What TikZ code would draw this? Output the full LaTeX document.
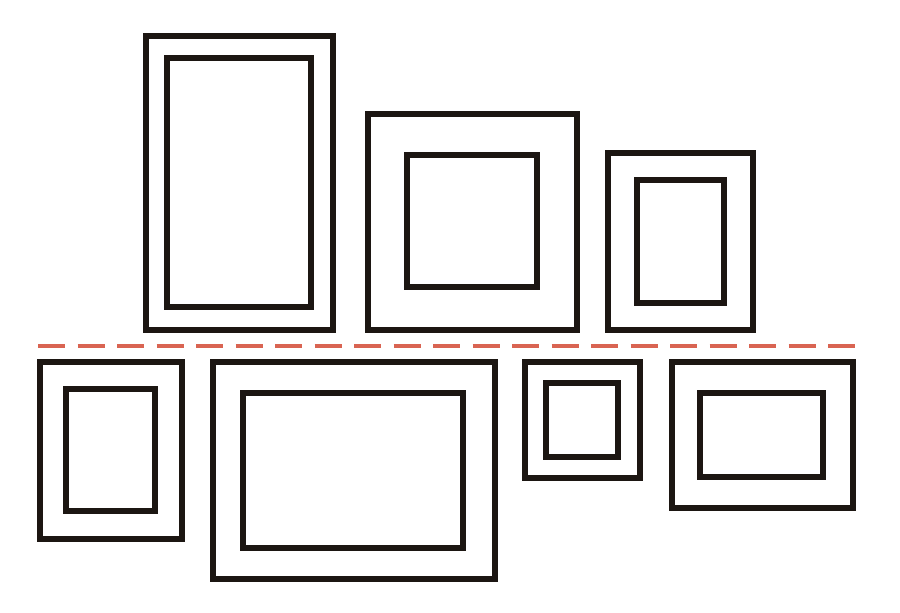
\documentclass[tikz,border=0pt]{standalone}
\definecolor{framecol}{RGB}{28,22,18}
\definecolor{hangcol}{RGB}{217,100,82}
\begin{document}
\begin{tikzpicture}[x=1pt,y=-1pt,
  frameline/.style={draw=framecol,line width=5.5pt,line join=miter},
  hangline/.style={draw=hangcol,line width=4.5pt,dash pattern=on 27pt off 12.5pt}]
\useasboundingbox (0,0) rectangle (900,613);
% top row
\draw[frameline] (146,36) rectangle (333,330);
\draw[frameline] (167,58) rectangle (311,307);
\draw[frameline] (368,114) rectangle (577,330);
\draw[frameline] (407,155) rectangle (537,287);
\draw[frameline] (608,153) rectangle (753,330);
\draw[frameline] (637,180) rectangle (724,303);
% hanging line
\draw[hangline] (38,346) -- (855,346);
% bottom row
\draw[frameline] (40,362) rectangle (182,539);
\draw[frameline] (66,389) rectangle (155,511);
\draw[frameline] (213,362) rectangle (495,579);
\draw[frameline] (243,393) rectangle (463,548);
\draw[frameline] (525,362) rectangle (640,478);
\draw[frameline] (546,383) rectangle (618,457);
\draw[frameline] (672,362) rectangle (853,508);
\draw[frameline] (700,393) rectangle (823,477);
\end{tikzpicture}
\end{document}
